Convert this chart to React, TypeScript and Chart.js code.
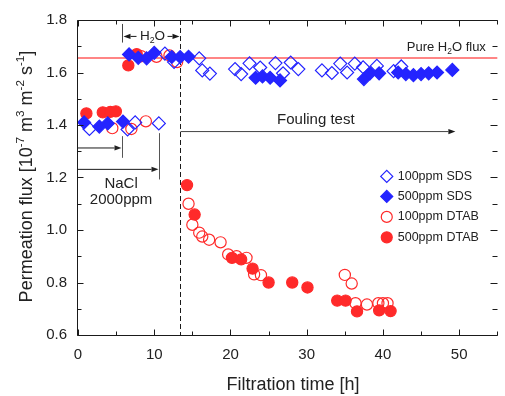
import React, { useEffect, useRef } from 'react';
import { Chart, registerables } from 'chart.js';

Chart.register(...registerables);

// ---------- data (hours, flux 10^-7 m3 m-2 s-1) ----------
const sds100: [number, number][] = [
  [1.5, 1.385], [6.5, 1.383], [7.5, 1.41], [10.6, 1.406],
  [11.4, 1.672], [12.6, 1.64], [15.9, 1.654], [16.3, 1.608], [17.3, 1.596],
  [20.6, 1.613], [21.4, 1.594], [22.5, 1.635], [23.9, 1.619], [25.9, 1.636],
  [26.9, 1.597], [27.9, 1.638], [28.9, 1.613], [32.0, 1.608], [33.3, 1.598],
  [34.4, 1.634], [35.3, 1.6], [36.3, 1.634], [37.4, 1.62], [39.2, 1.625],
  [41.4, 1.605], [42.4, 1.623],
];
const sds500: [number, number][] = [
  [0.8, 1.41], [2.8, 1.394], [3.9, 1.406], [5.9, 1.413],
  [6.7, 1.669], [7.9, 1.656], [9.0, 1.654], [10.0, 1.675], [12.3, 1.659],
  [13.4, 1.659], [14.5, 1.66],
  [23.3, 1.58], [24.2, 1.585], [25.2, 1.58], [26.5, 1.57],
  [37.5, 1.575], [38.3, 1.597], [39.5, 1.597], [42.0, 1.6], [43.0, 1.594],
  [44.0, 1.59], [45.0, 1.594], [46.0, 1.597], [47.1, 1.6], [49.1, 1.61],
];
const dtab100: [number, number][] = [
  [4.5, 1.388], [7.0, 1.385], [8.9, 1.414],
  [8.3, 1.662], [10.3, 1.66], [12.0, 1.665], [13.0, 1.64],
  [14.5, 1.1], [15.0, 1.02], [15.9, 0.99], [16.3, 0.975], [17.2, 0.963],
  [18.7, 0.953], [19.7, 0.907], [20.8, 0.9], [22.1, 0.894], [23.1, 0.831],
  [24.0, 0.828], [35.0, 0.829], [35.9, 0.796], [36.4, 0.721], [37.9, 0.716],
  [39.4, 0.721], [40.0, 0.721], [40.6, 0.721],
];
const dtab500: [number, number][] = [
  [1.1, 1.444], [3.25, 1.448], [4.24, 1.45], [4.97, 1.452],
  [6.6, 1.627], [7.7, 1.67],
  [14.3, 1.171], [15.3, 1.059], [20.2, 0.894], [21.4, 0.888], [22.9, 0.853],
  [25.0, 0.8], [28.1, 0.8], [30.1, 0.781], [34.0, 0.731], [35.1, 0.731],
  [36.6, 0.69], [39.5, 0.694], [41.0, 0.691],
];

const seriesLabels = ['100ppm SDS', '500ppm SDS', '100ppm DTAB', '500ppm DTAB'];
const xTicks = [0, 10, 20, 30, 40, 50];
const yTicks = [0.6, 0.8, 1.0, 1.2, 1.4, 1.6, 1.8];
const PURE_H2O = 1.655;
const FOULING_START = 13.4;
const NACL_END_1 = 5.8;
const NACL_END_2 = 10.6;
const FOULING_ARROW_END = 49.5;

// ---------- style ----------
const FONT = "Arial, 'Liberation Sans', Helvetica, sans-serif";
const BLUE = '#2424ff';
const RED = '#ff2a2a';
const RED_LINE = '#ff5c5c';
const INK = '#1a1a1a';

type Seg = { t: string; s?: 'sub' | 'sup' };

function richWidth(ctx: CanvasRenderingContext2D, segs: Seg[], size: number) {
  let w = 0;
  for (const sg of segs) {
    ctx.font = `${sg.s ? size * 0.65 : size}px ${FONT}`;
    w += ctx.measureText(sg.t).width;
  }
  return w;
}

function drawRich(ctx: CanvasRenderingContext2D, segs: Seg[], x: number, y: number, size: number, align: 'left' | 'center' | 'right', color: string) {
  const w = richWidth(ctx, segs, size);
  let cx = align === 'left' ? x : align === 'center' ? x - w / 2 : x - w;
  ctx.textBaseline = 'middle';
  ctx.textAlign = 'left';
  ctx.fillStyle = color;
  for (const sg of segs) {
    ctx.font = `${sg.s ? size * 0.65 : size}px ${FONT}`;
    const dy = sg.s === 'sup' ? -size * 0.33 : sg.s === 'sub' ? size * 0.3 : 0;
    ctx.fillText(sg.t, cx, y + dy);
    cx += ctx.measureText(sg.t).width;
  }
}

function line(ctx: CanvasRenderingContext2D, x1: number, y1: number, x2: number, y2: number) {
  ctx.beginPath();
  ctx.moveTo(x1, y1);
  ctx.lineTo(x2, y2);
  ctx.stroke();
}

function arrow(ctx: CanvasRenderingContext2D, x1: number, y1: number, x2: number, y2: number) {
  const ang = Math.atan2(y2 - y1, x2 - x1);
  const L = 7, H = 2.6;
  const bx = x2 - Math.cos(ang) * L, by = y2 - Math.sin(ang) * L;
  line(ctx, x1, y1, bx, by);
  ctx.beginPath();
  ctx.moveTo(x2, y2);
  ctx.lineTo(bx - Math.sin(ang) * H, by + Math.cos(ang) * H);
  ctx.lineTo(bx + Math.sin(ang) * H, by - Math.cos(ang) * H);
  ctx.closePath();
  ctx.fill();
}

function marker(ctx: CanvasRenderingContext2D, style: string, x: number, y: number, r: number, fill: string, stroke: string) {
  ctx.beginPath();
  if (style === 'rectRot') {
    ctx.moveTo(x - r, y);
    ctx.lineTo(x, y - r);
    ctx.lineTo(x + r, y);
    ctx.lineTo(x, y + r);
    ctx.closePath();
  } else {
    ctx.arc(x, y, r, 0, Math.PI * 2);
  }
  ctx.fillStyle = fill;
  ctx.fill();
  ctx.lineWidth = 1.2;
  ctx.strokeStyle = stroke;
  ctx.stroke();
}

const annotPlugin = {
  id: 'annot',
  beforeDatasetsDraw(chart: any) {
    const { ctx, chartArea: a, scales } = chart;
    const x = scales.x, y = scales.y;
    ctx.save();
    // pure water line
    ctx.strokeStyle = RED_LINE;
    ctx.lineWidth = 1.6;
    const yh = y.getPixelForValue(PURE_H2O);
    line(ctx, a.left, yh, a.right, yh);
    // dashed fouling start line
    ctx.strokeStyle = INK;
    ctx.lineWidth = 1;
    ctx.setLineDash([5, 3]);
    const xd = Math.round(x.getPixelForValue(FOULING_START)) + 0.5;
    line(ctx, xd, a.top, xd, a.bottom);
    ctx.setLineDash([]);
    ctx.restore();
  },
  afterDatasetsDraw(chart: any) {
    const { ctx, chartArea: a, scales } = chart;
    const x = scales.x, y = scales.y;
    const px = (t: number) => x.getPixelForValue(t);
    const py = (v: number) => y.getPixelForValue(v);
    ctx.save();

    // frame (right edge lies just outside the picture)
    ctx.strokeStyle = INK;
    ctx.lineWidth = 1;
    const L = Math.round(a.left) - 0.5, T = Math.round(a.top) + 0.5, B = Math.round(a.bottom) + 0.5, R = Math.round(a.right) + 0.5;
    line(ctx, L, T, R, T);
    line(ctx, L, B, R, B);
    line(ctx, L, T, L, B);

    // inward ticks
    for (let t = 0; t <= 55; t += 5) {
      const xx = Math.round(px(t)) + 0.5;
      const len = t % 10 === 0 ? 6 : 4;
      line(ctx, xx, B, xx, B - len);
      line(ctx, xx, T, xx, T + len);
    }
    for (let k = 0; k <= 12; k++) {
      const v = 0.6 + k * 0.1;
      const yy = Math.round(py(v)) + 0.5;
      const len = k % 2 === 0 ? 6 : 4;
      line(ctx, L, yy, L + len, yy);
      line(ctx, R, yy, R - len - 1, yy);
    }

    // H2O period marker
    ctx.strokeStyle = '#444';
    ctx.fillStyle = INK;
    ctx.lineWidth = 1;
    const xb1 = Math.round(px(NACL_END_1)) + 0.5;
    const xb2 = Math.round(px(NACL_END_2)) + 0.5;
    const xd = Math.round(px(FOULING_START)) + 0.5;
    line(ctx, xb1, py(1.785), xb1, py(1.714));
    const yH = py(1.7375);
    ctx.strokeStyle = INK;
    arrow(ctx, xb1 + 14, yH, xb1 + 1, yH);
    arrow(ctx, xd - 13, yH, xd - 1, yH);
    drawRich(ctx, [{ t: 'H' }, { t: '2', s: 'sub' }, { t: 'O' }], (xb1 + xd) / 2 + 1, yH, 13.5, 'center', '#222');

    // NaCl arrows
    ctx.strokeStyle = '#555';
    line(ctx, xb1, py(1.3575), xb1, py(1.275));
    line(ctx, xb2, py(1.369), xb2, py(1.1925));
    ctx.strokeStyle = INK;
    arrow(ctx, a.left, py(1.3125), xb1 - 1, py(1.3125));
    arrow(ctx, a.left, py(1.231), xb2 - 1, py(1.231));
    drawRich(ctx, [{ t: 'NaCl' }], px(5.65), py(1.175), 15, 'center', '#222');
    drawRich(ctx, [{ t: '2000ppm' }], px(5.65), py(1.113), 15, 'center', '#222');

    // Fouling test arrow
    ctx.strokeStyle = '#444';
    ctx.fillStyle = INK;
    arrow(ctx, xd, py(1.375), px(FOULING_ARROW_END), py(1.375));
    drawRich(ctx, [{ t: 'Fouling test' }], px(31.2), py(1.421), 15, 'center', '#222');

    // Pure water label
    drawRich(ctx, [{ t: 'Pure H' }, { t: '2', s: 'sub' }, { t: 'O flux' }], px(53.5), py(1.694), 13, 'right', '#222');

    // legend
    const ds = chart.data.datasets;
    const legendOrder = [1, 0, 3, 2];
    const ly = [1.204, 1.128, 1.05, 0.972];
    legendOrder.forEach((di: number, i: number) => {
      const d = ds[di];
      const mx = px(40.5), my = py(ly[i]);
      marker(ctx, d.pointStyle, mx, my, d.pointStyle === 'rectRot' ? 6 : 5.5, d.backgroundColor, d.borderColor);
      drawRich(ctx, [{ t: d.label }], mx + 11, my, 12.5, 'left', '#222');
    });

    ctx.restore();
  },
  afterDraw(chart: any) {
    const { ctx, chartArea: a } = chart;
    ctx.save();
    // x title
    drawRich(ctx, [{ t: 'Filtration time [h]' }], 293, 385, 18, 'center', '#222');
    // y title
    ctx.translate(27, (a.top + a.bottom) / 2 - 1);
    ctx.rotate(-Math.PI / 2);
    drawRich(ctx, [
      { t: 'Permeation flux [10' }, { t: '-7', s: 'sup' },
      { t: ' m' }, { t: '3', s: 'sup' },
      { t: ' m' }, { t: '-2', s: 'sup' },
      { t: ' s' }, { t: '-1', s: 'sup' },
      { t: ']' },
    ], 0, 0, 18, 'center', '#222');
    ctx.restore();
  },
};

const toPts = (arr: [number, number][]) => arr.map(([x, y]) => ({ x, y }));

export default function App() {
  const ref = useRef<HTMLCanvasElement | null>(null);
  useEffect(() => {
    if (!ref.current) return;
    const chart = new Chart(ref.current, {
      type: 'scatter',
      data: {
        datasets: [
          { label: seriesLabels[1], data: toPts(sds500), pointStyle: 'rectRot', pointRadius: 6.5, backgroundColor: BLUE, borderColor: BLUE, pointBorderWidth: 1.2 } as any,
          { label: seriesLabels[0], data: toPts(sds100), pointStyle: 'rectRot', pointRadius: 6.5, backgroundColor: 'rgba(0,0,0,0)', borderColor: BLUE, pointBorderWidth: 1.2 } as any,
          { label: seriesLabels[3], data: toPts(dtab500), pointStyle: 'circle', pointRadius: 5.6, backgroundColor: RED, borderColor: RED, pointBorderWidth: 1.2 } as any,
          { label: seriesLabels[2], data: toPts(dtab100), pointStyle: 'circle', pointRadius: 5.6, backgroundColor: 'rgba(0,0,0,0)', borderColor: RED, pointBorderWidth: 1.2 } as any,
        ],
      },
      options: {
        responsive: false,
        animation: false,
        devicePixelRatio: 1,
        layout: { padding: { top: 15, left: 0, right: 0, bottom: 0 } },
        plugins: { legend: { display: false }, tooltip: { enabled: false } },
        scales: {
          x: {
            type: 'linear', min: 0, max: 55,
            border: { display: false },
            grid: { display: false, drawTicks: false },
            afterFit: (s: any) => { s.height = 61; },
            afterBuildTicks: (s: any) => { s.ticks = xTicks.map((v) => ({ value: v })); },
            ticks: { padding: 11, color: '#222', font: { size: 15, family: FONT }, callback: (v: any) => String(v) },
          },
          y: {
            type: 'linear', min: 0.6, max: 1.8,
            border: { display: false },
            grid: { display: false, drawTicks: false },
            afterFit: (s: any) => { s.width = 78; },
            afterBuildTicks: (s: any) => { s.ticks = yTicks.map((v) => ({ value: v })); },
            ticks: { padding: 11, color: '#222', font: { size: 15, family: FONT }, callback: (v: any) => Number(v).toFixed(1) },
          },
        },
      } as any,
      plugins: [annotPlugin],
    });
    return () => chart.destroy();
  }, []);
  return (
    <div style={{ position: 'fixed', left: 0, top: 0, width: 505, height: 396, background: '#fff' }}>
      <canvas ref={ref} width={505} height={396} style={{ display: 'block' }} />
    </div>
  );
}
